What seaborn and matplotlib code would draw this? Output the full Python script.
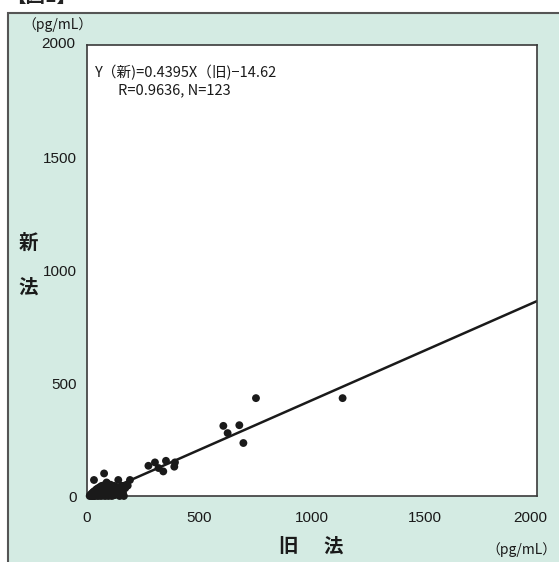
import matplotlib
matplotlib.use('Agg')
import matplotlib.pyplot as plt
import matplotlib.patches as mpatches
import matplotlib.transforms as mtransforms
import seaborn as sns
import numpy as np
import pandas as pd

# regression shown on the chart
slope = 0.4395
intercept = -14.62
r_value = 0.9636
n_count = 123

# points away from the origin cluster
outer_x = [1136, 751, 606, 677, 625, 695,
           273, 302, 351, 391, 388, 339, 318,
           76, 31, 87, 139, 191, 181, 164]
outer_y = [434, 434, 311, 314, 279, 235,
           134, 149, 156, 149, 130, 109, 124,
           100, 71, 60, 71, 71, 46, 0]

# dense cluster near the origin
cluster_x = [12, 15, 18, 20, 22, 25, 25, 28, 30, 30, 32, 35, 35, 38, 40, 40, 42, 45, 45, 48,
             50, 50, 52, 55, 55, 58, 60, 60, 62, 65, 65, 68, 70, 70, 72, 75, 75, 78, 80, 80,
             82, 85, 85, 88, 90, 90, 92, 95, 95, 98, 100, 100, 105, 105, 110, 110, 115, 115,
             120, 120, 125, 130, 130, 135, 140, 145, 150, 155, 160, 170,
             20, 28, 36, 44, 52, 64, 74, 84, 96, 108, 118, 128]
cluster_y = [0, 5, 0, 10, 2, 0, 15, 8, 0, 20, 5, 12, 0, 25, 3, 15, 30, 8, 20, 0,
             12, 35, 25, 5, 18, 40, 10, 28, 0, 20, 45, 12, 30, 2, 22, 38, 8, 15, 50, 0,
             28, 18, 40, 5, 30, 55, 12, 25, 0, 42, 15, 35, 8, 50, 22, 0, 38, 12,
             28, 45, 5, 20, 40, 10, 30, 0, 25, 45, 15, 35,
             4, 2, 6, 4, 2, 6, 4, 3, 5, 6, 3, 8]

ticks = [0, 500, 1000, 1500, 2000]

df = pd.DataFrame({'old': outer_x + cluster_x, 'new': outer_y + cluster_y})

bg_green = '#d4ebe3'
W, H = 559, 562

sns.set_theme(style='white')
plt.rcParams['font.family'] = ['Liberation Sans', 'Noto Sans CJK JP', 'DejaVu Sans']
plt.rcParams['axes.unicode_minus'] = True
cjk = ['Noto Sans CJK JP', 'DejaVu Sans']

fig = plt.figure(figsize=(W / 100, H / 100), dpi=100)
fig.patch.set_facecolor('white')

# green panel with dark border
panel = mpatches.Rectangle((8 / W, -0.01), 1.0, 1 - 13 / H + 0.01, transform=fig.transFigure,
                           facecolor=bg_green, edgecolor='#555555', linewidth=1.5, zorder=-5)
fig.patches.append(panel)
fig.text(6 / W, 1 + 4 / H, '【図1】', fontsize=14, fontweight='bold', color='#222222',
         va='center', ha='left', family=cjk)

ax = fig.add_axes([87 / W, 1 - 496 / H, (537 - 87) / W, (496 - 45) / H])
ax.set_zorder(2)
ax.set_facecolor('white')

sns.scatterplot(data=df, x='old', y='new', ax=ax, color='#1a1a1a', s=32,
                edgecolor='none', zorder=3, clip_on=False)

x_line = np.array([-intercept / slope, 2000])
ax.plot(x_line, slope * x_line + intercept, color='#1a1a1a', lw=1.8, zorder=2)

ax.set_xlim(0, 2000)
ax.set_ylim(0, 2000)
ax.set_xticks(ticks)
ax.set_yticks(ticks)
ax.tick_params(axis='both', direction='in', length=5, width=1, colors='#333333',
               labelsize=11, labelcolor='#1a1a1a')
ax.tick_params(axis='x', pad=11)
ax.tick_params(axis='y', pad=7)
ax.set_xlabel('')
ax.set_ylabel('')
for sp in ax.spines.values():
    sp.set_color('#3a3a3a')
    sp.set_linewidth(1.2)

# last x tick label sits a bit left of its tick
last = ax.get_xticklabels()[-1]
last.set_transform(last.get_transform() + mtransforms.ScaledTranslation(-7 / 100, 0, fig.dpi_scale_trans))
# top y tick label sits a bit higher
top = ax.get_yticklabels()[-1]
top.set_transform(top.get_transform() + mtransforms.ScaledTranslation(-2 / 100, 3 / 100, fig.dpi_scale_trans))

ax.text(0.018, 0.938, 'Y（新)=0.4395X（旧)−14.62', transform=ax.transAxes, fontsize=10.5,
        ha='left', va='center', family=cjk, color='#1a1a1a')
ax.text(0.07, 0.900, f'R={r_value}, N={n_count}', transform=ax.transAxes, fontsize=10.5,
        ha='left', va='center', family=cjk, color='#1a1a1a')

fig.text(57 / W, 1 - 25 / H, '（pg/mL）', fontsize=10, ha='center', va='center',
         family=cjk, color='#1a1a1a')
fig.text(521 / W, 1 - 550 / H, '（pg/mL）', fontsize=10, ha='center', va='center',
         family=cjk, color='#1a1a1a')
fig.text(28 / W, 1 - 243 / H, '新', fontsize=14, fontweight='bold', ha='center', va='center',
         family=cjk, color='#1a1a1a')
fig.text(28 / W, 1 - 288 / H, '法', fontsize=14, fontweight='bold', ha='center', va='center',
         family=cjk, color='#1a1a1a')
fig.text(288 / W, 1 - 547 / H, '旧', fontsize=14, fontweight='bold', ha='center', va='center',
         family=cjk, color='#1a1a1a')
fig.text(333 / W, 1 - 547 / H, '法', fontsize=14, fontweight='bold', ha='center', va='center',
         family=cjk, color='#1a1a1a')

fig.savefig('out.png', dpi=100, facecolor=fig.get_facecolor())
